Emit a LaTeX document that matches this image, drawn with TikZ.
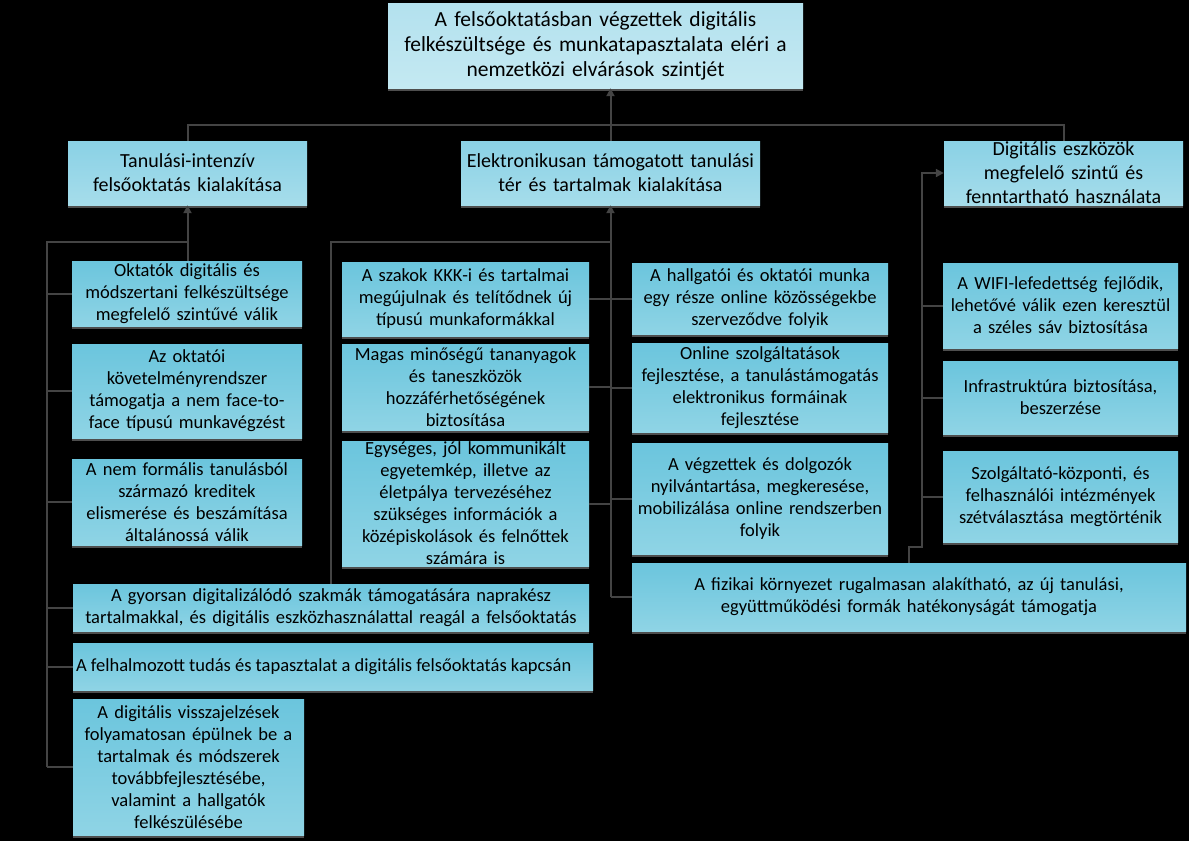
\documentclass[tikz,border=0pt]{standalone}
\usepackage{fontspec}
\setmainfont{Carlito}
\usepackage{xcolor}
\usetikzlibrary{arrows.meta,shadows}

\definecolor{linegray}{HTML}{444444}
\definecolor{shadowgray}{HTML}{4E4E4E}
\definecolor{cellA}{HTML}{6BC5DD}
\definecolor{cellB}{HTML}{8FD4E5}
\definecolor{headA}{HTML}{8AD1E5}
\definecolor{headB}{HTML}{A6DDEB}
\definecolor{goalA}{HTML}{B3E1EE}
\definecolor{goalB}{HTML}{C4E9F2}

\tikzset{
  line/.style={draw=linegray, line width=2pt},
  arr/.style={line, -{Triangle[length=8pt,width=8pt]}},
  box/.style={inner sep=0pt, align=center, text=black, top color=cellA, bottom color=cellB,
    general shadow={fill=shadowgray, shadow yshift=-3pt},
    font=\fontsize{18.5}{22}\selectfont},
  headbox/.style={box, top color=headA, bottom color=headB, font=\fontsize{20}{24}\selectfont},
  goalbox/.style={box, top color=goalA, bottom color=goalB, font=\fontsize{21.5}{25}\selectfont},
}

\begin{document}
\begin{tikzpicture}[x=1pt, y=-1pt]
  \fill[black] (0,0) rectangle (1189,841);
  \useasboundingbox (0,0) rectangle (1189,841);

  % goal and the three main fields
  \node[goalbox, minimum width=415pt, minimum height=85pt, text width=411pt] (goal) at (595.5,45.5)
    {A felsőoktatásban végzettek digitális\\ felkészültsége és munkatapasztalata eléri a\\ nemzetközi elvárások szintjét};
  \node[headbox, minimum width=239pt, minimum height=64pt, text width=235pt] (tanul) at (187.5,173)
    {Tanulási-intenzív\\ felsőoktatás kialakítása};
  \node[headbox, minimum width=299pt, minimum height=64pt, text width=295pt] (elektr) at (610.5,173)
    {Elektronikusan támogatott tanulási\\ tér és tartalmak kialakítása};
  \node[headbox, minimum width=239pt, minimum height=64pt, text width=235pt] (eszk) at (1063.5,173)
    {Digitális eszközök\\ megfelelő szintű és\\ fenntartható használata};

  % left column
  \node[box, minimum width=230pt, minimum height=65pt, text width=226pt] (okt) at (187,293.5)
    {Oktatók digitális és\\ módszertani felkészültsége\\ megfelelő szintűvé válik};
  \node[box, minimum width=230pt, minimum height=94pt, text width=226pt] (kovet) at (187,391)
    {Az oktatói\\ követelményrendszer\\ támogatja a nem face-to-\\ face típusú munkavégzést};
  \node[box, minimum width=230pt, minimum height=86pt, text width=226pt] (nemform) at (187,502)
    {A nem formális tanulásból\\ származó kreditek\\ elismerése és beszámítása\\ általánossá válik};
  \node[box, minimum width=516pt, minimum height=47pt, text width=512pt] (gyors) at (331,607.5)
    {A gyorsan digitalizálódó szakmák támogatására naprakész\\ tartalmakkal, és digitális eszközhasználattal reagál a felsőoktatás};
  \node[box, minimum width=520pt, minimum height=47pt] (felh) at (333,666.5)
    {\makebox[514pt][l]{A felhalmozott tudás és tapasztalat a digitális felsőoktatás kapcsán}};
  \node[box, minimum width=231pt, minimum height=136pt, text width=227pt] (vissza) at (188.5,767)
    {A digitális visszajelzések\\ folyamatosan épülnek be a\\ tartalmak és módszerek\\ továbbfejlesztésébe,\\ valamint a hallgatók\\ felkészülésébe};

  % middle columns
  \node[box, minimum width=247pt, minimum height=74pt, text width=243pt] (szakok) at (465.5,299)
    {A szakok KKK-i és tartalmai\\ megújulnak és telítődnek új\\ típusú munkaformákkal};
  \node[box, minimum width=247pt, minimum height=86pt, text width=243pt] (magas) at (465.5,387)
    {Magas minőségű tananyagok\\ és taneszközök\\ hozzáférhetőségének\\ biztosítása};
  \node[box, minimum width=247pt, minimum height=125pt, text width=243pt] (egyseg) at (465.5,503.5)
    {Egységes, jól kommunikált\\ egyetemkép, illetve az\\ életpálya tervezéséhez\\ szükséges információk a\\ középiskolások és felnőttek\\ számára is};
  \node[box, minimum width=256pt, minimum height=71pt, text width=252pt] (hallg) at (760,298.5)
    {A hallgatói és oktatói munka\\ egy része online közösségekbe\\ szerveződve folyik};
  \node[box, minimum width=256pt, minimum height=89pt, text width=252pt] (online) at (760,387.5)
    {Online szolgáltatások\\ fejlesztése, a tanulástámogatás\\ elektronikus formáinak\\ fejlesztése};
  \node[box, minimum width=256pt, minimum height=111pt, text width=252pt] (vegz) at (760,498.5)
    {A végzettek és dolgozók\\ nyilvántartása, megkeresése,\\ mobilizálása online rendszerben\\ folyik};
  \node[box, minimum width=554pt, minimum height=68pt, text width=550pt] (fizikai) at (909,597)
    {A fizikai környezet rugalmasan alakítható, az új tanulási,\\ együttműködési formák hatékonyságát támogatja};

  % right column
  \node[box, minimum width=235pt, minimum height=85pt, text width=231pt] (wifi) at (1060.5,305.5)
    {A WIFI-lefedettség fejlődik,\\ lehetővé válik ezen keresztül\\ a széles sáv biztosítása};
  \node[box, minimum width=235pt, minimum height=73pt, text width=231pt] (infra) at (1060.5,397.5)
    {Infrastruktúra biztosítása,\\ beszerzése};
  \node[box, minimum width=235pt, minimum height=91pt, text width=231pt] (szolg) at (1060.5,496.5)
    {Szolgáltató-központi, és\\ felhasználói intézmények\\ szétválasztása megtörténik};

  % connectors
  \coordinate (bar) at (0,125);
  \coordinate (lbus) at (47,242);
  \coordinate (rbus) at (922,547);
  \draw[arr] (elektr.north) -- (elektr.north |- goal.south);
  \draw[line] (tanul.north) -- (tanul.north |- bar) -- (eszk.north |- bar) -- (eszk.north);

  \draw[arr] (tanul.south |- okt.north) -- (tanul.south);
  \draw[line] (okt.north |- lbus) -- (lbus) -- (lbus |- vissza.west);
  \foreach \n in {okt,kovet,nemform,gyors,felh,vissza}
    \draw[line] (lbus |- \n.west) -- (\n.west);

  \draw[arr] (elektr.south |- fizikai.west) -- (elektr.south);
  \draw[line] (elektr.south |- lbus) -| (gyors.north);
  \foreach \n in {szakok,magas,egyseg}
    \draw[line] (\n.east) -- (\n.east -| elektr.south);
  \foreach \n in {hallg,online,vegz,fizikai}
    \draw[line] (elektr.south |- \n.west) -- (\n.west);

  \draw[arr] (fizikai.north) |- (rbus) |- (eszk.west);
  \foreach \n in {wifi,infra,szolg}
    \draw[line] (rbus |- \n.west) -- (\n.west);
\end{tikzpicture}
\end{document}
